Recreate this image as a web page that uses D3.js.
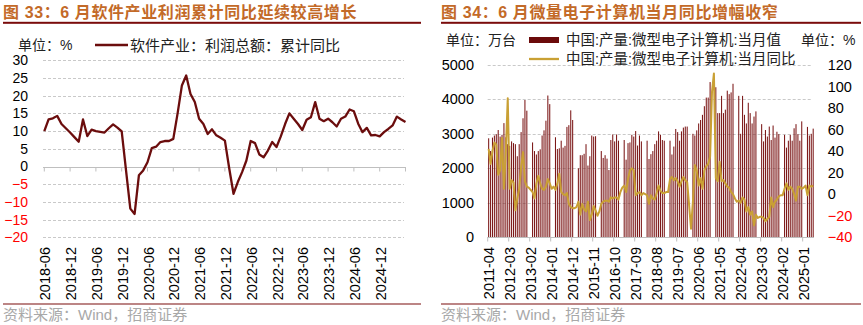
<!DOCTYPE html>
<html><head><meta charset="utf-8">
<script src="https://cdn.jsdelivr.net/npm/d3@7"></script>
<style>
body{margin:0;background:#fff;}
svg text{font-family:"Liberation Sans","Noto Sans CJK SC",sans-serif;}
</style></head><body>
<svg id="c" width="863" height="325"></svg>
<script>
// ---------- data: software industry profit, cumulative YoY (%) ----------
const softStart = "2018-06";
const softProfitYoY = [
  10.0,13.3,13.6,14.3,12.0,10.8,9.6,8.3,7.0,13.3,8.6,10.4,
  10.0,9.8,9.6,10.8,11.9,11.0,9.9,-1.0,-11.9,-13.4,-2.5,-1.1,
  1.2,5.2,5.6,6.9,7.2,7.2,7.8,15.0,22.9,25.7,20.5,18.2,
  13.5,12.0,9.2,10.5,8.8,8.1,7.3,-0.5,-7.7,-4.4,-1.6,1.7,
  7.2,6.6,3.4,2.6,4.5,6.9,5.5,8.5,12.0,15.0,13.5,12.0,
  10.3,13.2,13.9,18.2,13.5,12.8,13.5,12.5,11.3,13.5,14.1,16.1,
  15.6,12.1,9.7,10.9,8.8,8.9,8.5,9.7,10.6,11.6,14.1,13.3,12.6
];
const softYTicks = [30,25,20,15,10,5,0,-5,-10,-15,-20];

// ---------- data: microcomputer output (10k units) and YoY (%) ----------
const pcStart = "2011-04";
const pcOutput = [
  2870,2500,2890,2950,2990,3110,2920,2970,3310,2900,2700,2650,2780,2730,2700,2350,2700,3050,3450,3980,3670,
  null,null,2750,2500,2400,2500,2550,2950,3100,3380,4110,3860,
  null,null,2900,2560,2580,2800,2600,2650,3200,3250,3680,3400,
  null,null,2000,2380,2380,2420,2700,2080,2350,2950,2920,2930,
  null,null,2500,2300,2380,2280,1950,2820,2980,2780,2980,2800,
  null,null,2820,2250,2730,2750,2970,2920,3080,2660,2950,2780,
  null,null,2800,2270,2410,2500,2700,2800,3070,2970,2820,2800,
  null,null,2800,2400,2630,3140,3050,2800,3070,3180,3210,3210,
  null,null,3000,2950,3100,3300,3400,3550,3800,4050,4050,4500,
  null,null,4350,3600,3600,4100,3600,3700,4250,4150,4200,4450,
  null,null,4100,3000,4100,3550,3300,3900,3600,3300,3500,3650,
  null,null,3280,2780,3110,2920,3210,2820,3240,2890,3060,2990,
  null,null,2970,2600,2800,2970,2800,3160,3280,2990,2800,3360,
  null,null,3200,2950,3000,3150
];
const pcYoY = [
  42,28,40,48,46,18,22,52,5,40,89,5,13,11,-15,-4,5,25,39,12,7,
  6,4,2,-4,10,17,10,5,4,7,14,10,
  5,7,4,10,19,2,0,-1,1,-9,-12,-13,
  -13,-12,-7,-19,-9,-14,-16,-7,-24,-19,-11,-15,
  -20,-16,-9,-7,-6,-6,-7,-3,-4,-3,-3,-5,
  2,6,8,2,14,22,24,22,-1,1,2,-1,
  1,0,-1,-9,-1,-4,-5,1,8,3,1,1,
  2,2,14,16,13,15,12,7,12,16,13,11,
  -10,-32,-7,27,22,8,15,5,22,26,28,35,
  95,112,15,12,30,12,13,10,7,6,2,0,
  -4,-7,-6,-8,-3,-5,-16,-12,-19,-16,-29,-19,
  -22,-21,-21,-22,-25,-23,-21,-3,-12,-7,-5,-2,
  -1,-1,5,10,4,7,5,0,-6,7,7,5,
  6,8,-1,8,7,8
];
const pcLeftTicks = [5000,4000,3000,2000,1000,0];
const pcRightTicks = [120,100,80,60,40,20,0,-20,-40];

// month label helper
const fmt = d3.timeFormat("%Y-%m");
const parse = d3.timeParse("%Y-%m");
const monthsFrom = (start, n) => d3.range(n).map(i => fmt(d3.timeMonth.offset(parse(start), i)));
const softMonths = monthsFrom(softStart, softProfitYoY.length);
const pcMonths = monthsFrom(pcStart, pcOutput.length);

const svg = d3.select("#c");
svg.append("rect").attr("width",863).attr("height",325).attr("fill","#fff");

const TITLE = "#c36a28", RULE = "#7a0c0c", GRID = "#c9c9c9", AXIS = "#bfbfbf";
const intFmt = d3.format("d");

function frame(x0, x1, title) {
  svg.append("text").attr("x", x0).attr("y", 17.5)
    .attr("font-size", 16).attr("font-weight", "bold").attr("fill", TITLE)
    .attr("letter-spacing", 0.6)
    .text(title);
  svg.append("rect").attr("x", x0).attr("y", 21.8).attr("width", x1 - x0).attr("height", 2).attr("fill", RULE);
  svg.append("rect").attr("x", x0).attr("y", 303.5).attr("width", x1 - x0).attr("height", 1).attr("fill", RULE);
  svg.append("text").attr("x", x0).attr("y", 320).attr("font-size", 15).attr("fill", "#a8a8a8")
    .text("资料来源：Wind，招商证券");
}

// ================= left chart =================
frame(3, 421, "图 33：6 月软件产业利润累计同比延续较高增长");

const yL = d3.scaleLinear().domain([-20, 30]).range([237.3, 60.3]);
const xL = d3.scalePoint().domain(d3.range(softMonths.length)).range([44.3, 405.5]);
const gL = svg.append("g");

gL.selectAll("line.grid").data(softYTicks.filter(v => v !== 0)).join("line")
  .attr("x1", 43).attr("x2", 404)
  .attr("y1", d => Math.round(yL(d)) + 0.5).attr("y2", d => Math.round(yL(d)) + 0.5)
  .attr("stroke", GRID).attr("stroke-dasharray", "3,2");

const axL = d3.axisLeft(yL).tickValues(softYTicks).tickSize(0).tickPadding(0).tickFormat(intFmt);
gL.append("g").attr("transform", "translate(28,0)").call(axL)
  .call(g => g.select(".domain").remove())
  .call(g => g.selectAll("text").attr("font-size", 14)
    .attr("font-family", "Liberation Sans").attr("fill", d => d < 0 ? "#ff0000" : "#000"));

// zero axis with month ticks
const y0 = Math.round(yL(0)) + 0.5;
gL.append("line").attr("x1", 43).attr("x2", 406).attr("y1", y0).attr("y2", y0).attr("stroke", AXIS);
const tickIdx = d3.range(0, softMonths.length, 6);
gL.selectAll("line.tk").data(tickIdx).join("line")
  .attr("x1", d => xL(d)).attr("x2", d => xL(d)).attr("y1", y0).attr("y2", y0 + 4).attr("stroke", AXIS);
gL.selectAll("text.xl").data(tickIdx.filter(i => i < softMonths.length - 1)).join("text")
  .attr("transform", d => `translate(${xL(d) + 1},247) rotate(-90)`)
  .attr("dy", "0.35em").attr("text-anchor", "end").attr("font-size", 14.5)
  .attr("font-family", "Liberation Sans").attr("fill", "#000")
  .text(d => softMonths[d]);

gL.append("path").datum(softProfitYoY)
  .attr("fill", "none").attr("stroke", "#6b0d0d").attr("stroke-width", 2.3).attr("stroke-linejoin", "round")
  .attr("d", d3.line().x((d, i) => xL(i)).y(d => yL(d)));

// legend
gL.append("text").attr("x", 18).attr("y", 50).attr("font-size", 14).attr("fill", "#222").text("单位：%");
gL.append("line").attr("x1", 95).attr("x2", 128).attr("y1", 45).attr("y2", 45)
  .attr("stroke", "#6b0d0d").attr("stroke-width", 2.3);
gL.append("text").attr("x", 130).attr("y", 50.5).attr("font-size", 15).attr("fill", "#222")
  .text("软件产业：利润总额：累计同比");

// ================= right chart =================
frame(441, 861, "图 34：6 月微量电子计算机当月同比增幅收窄");

const xR = d3.scaleBand().domain(d3.range(pcMonths.length))
  .range([487.7, 487.7 + pcMonths.length * 1.909]).paddingInner(0.45).paddingOuter(0.225);
const yR = d3.scaleLinear().domain([0, 5000]).range([237.3, 64.8]);
const yR2 = d3.scaleLinear().domain([-40, 120]).range([237.3, 64.8]);
const gR = svg.append("g");

gR.selectAll("line.grid").data(pcLeftTicks.filter(v => v !== 0)).join("line")
  .attr("x1", 487.7).attr("x2", 812.7)
  .attr("y1", d => Math.round(yR(d)) + 0.5).attr("y2", d => Math.round(yR(d)) + 0.5)
  .attr("stroke", GRID).attr("stroke-dasharray", "3,2");

gR.append("g").attr("transform", "translate(474,0)")
  .call(d3.axisLeft(yR).tickValues(pcLeftTicks).tickSize(0).tickPadding(0).tickFormat(intFmt))
  .call(g => g.select(".domain").remove())
  .call(g => g.selectAll("text").attr("font-size", 14.5).attr("font-family", "Liberation Sans").attr("fill", "#000"));

gR.append("g").attr("transform", "translate(827.7,0)")
  .call(d3.axisRight(yR2).tickValues(pcRightTicks).tickSize(0).tickPadding(0).tickFormat(intFmt))
  .call(g => g.select(".domain").remove())
  .call(g => g.selectAll("text").attr("font-size", 14.5).attr("font-family", "Liberation Sans")
    .attr("fill", d => d < 0 ? "#ff0000" : "#000"));

// bars
gR.selectAll("rect.bar").data(pcOutput.map((v, i) => ({v, i})).filter(d => d.v !== null)).join("rect")
  .attr("x", d => xR(d.i)).attr("width", xR.bandwidth())
  .attr("y", d => yR(d.v)).attr("height", d => yR(0) - yR(d.v))
  .attr("fill", "#7c1818");

// base axis
const yb = Math.round(yR(0)) + 0.5;
gR.append("line").attr("x1", 487.2).attr("x2", 814).attr("y1", yb).attr("y2", yb).attr("stroke", AXIS);
const pcTicks = d3.range(0, pcMonths.length, 11);
const tx = i => 487.7 + i * xR.step();
gR.selectAll("line.tk").data(pcTicks).join("line")
  .attr("x1", d => tx(d)).attr("x2", d => tx(d)).attr("y1", yb).attr("y2", yb + 4).attr("stroke", AXIS);
gR.selectAll("text.xl").data(pcTicks).join("text")
  .attr("transform", d => `translate(${tx(d) + 1},247) rotate(-90)`)
  .attr("dy", "0.35em").attr("text-anchor", "end").attr("font-size", 14.5)
  .attr("font-family", "Liberation Sans").attr("fill", "#000")
  .text(d => pcMonths[d]);

// YoY line
gR.append("path").datum(pcYoY)
  .attr("fill", "none").attr("stroke", "#c9a034").attr("stroke-width", 2).attr("stroke-linejoin", "round")
  .attr("d", d3.line().x((d, i) => xR(i) + xR.bandwidth() / 2).y(d => yR2(d)));

// legend
gR.append("text").attr("x", 446).attr("y", 45).attr("font-size", 14).attr("fill", "#222").text("单位：万台");
gR.append("rect").attr("x", 529).attr("y", 37).attr("width", 30).attr("height", 6).attr("fill", "#6b0a0a");
gR.append("text").attr("x", 566).attr("y", 45).attr("font-size", 14.5).attr("fill", "#222")
  .text("中国:产量:微型电子计算机:当月值");
gR.append("text").attr("x", 801).attr("y", 45).attr("font-size", 14).attr("fill", "#222").text("单位：%");
gR.append("line").attr("x1", 529).attr("x2", 559).attr("y1", 59).attr("y2", 59)
  .attr("stroke", "#c9a034").attr("stroke-width", 2.3);
gR.append("text").attr("x", 566).attr("y", 64).attr("font-size", 14.5).attr("fill", "#222")
  .text("中国:产量:微型电子计算机:当月同比");
</script>
</body></html>
